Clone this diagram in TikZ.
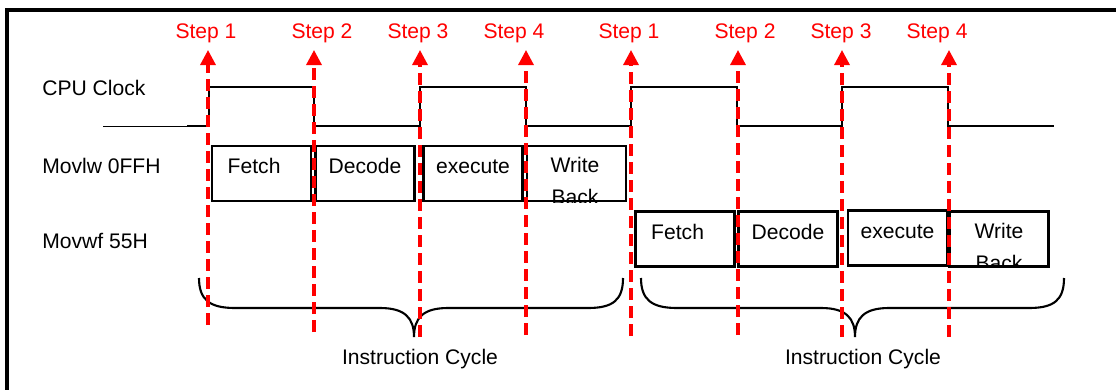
\documentclass[tikz,border=0pt]{standalone}
\usepackage{fontspec}
\setmainfont{Liberation Sans}
\usetikzlibrary{arrows.meta}

\begin{document}
\begin{tikzpicture}[x=0.025cm, y=-0.025cm,
  font=\fontsize{15}{17}\selectfont,
  steparrow/.style={draw=red, line width=2.3pt, dash pattern=on 0.3cm off 0.15cm,
    -{Triangle[width=0.38cm,length=0.38cm]}},
  steplabel/.style={text=red, anchor=base, inner sep=0pt},
  rowlabel/.style={anchor=base west, inner sep=0pt},
  stagebox/.style={draw, line width=1.5pt, minimum width=2.475cm, minimum height=1.375cm,
    inner sep=0pt, text height=10pt, text depth=10pt},
  clockline/.style={line width=1.5pt},
  bracket/.style={line width=1.5pt}]
  \clip (0,0) rectangle (1116,389);

  %% frame
  \draw[line width=2.8pt] (7,400) -- (7,10) -- (1130,10);

  %% row labels
  \node[rowlabel] (clk) at (42,95) {CPU Clock};
  \node[rowlabel] (movlw) at (42,173) {Movlw 0FFH};
  \node[rowlabel] (movwf) at (42,248) {Movwf 55H};

  %% CPU clock
  \draw[line width=0.7pt] (103,126) -- (187,126);
  \draw[clockline] (187,126) -- (209,126) -- (209,87) -- (314,87) -- (314,126)
    -- (420,126) -- (420,87) -- (526,87) -- (526,126) -- (631,126) -- (631,87)
    -- (737,87) -- (737,126) -- (842,126) -- (842,87) -- (948,87) -- (948,126)
    -- (1054,126);

  %% Movlw 0FFH
  \node[stagebox] (fetchA) at (261.5,173.5) {Fetch\kern0.37cm};
  \node[stagebox] (decodeA) at (365,173.5) {Decode};
  \node[stagebox] (execA) at (473,173.5) {execute};
  \node[stagebox] (wbA) at (576.5,173.5) {};
  \begin{scope}
    \clip (wbA.north west) rectangle (wbA.south east);
    \node[anchor=base] (writeA) at (575,172) {Write};
    \node[anchor=base] (backA) at (575,204) {Back};
  \end{scope}

  %% Movwf 55H
  \node[stagebox] (fetchB) at (685,239) {Fetch\kern0.37cm};
  \node[stagebox] (decodeB) at (788,239) {Decode};
  \node[stagebox] (execB) at (897.5,238) {execute};
  \node[stagebox] (wbB) at (999,239) {};
  \begin{scope}
    \clip (wbB.north west) rectangle (wbB.south east);
    \node[anchor=base] (writeB) at (999,238) {Write};
    \node[anchor=base] (backB) at (999,270) {Back};
  \end{scope}

  %% braces
  \draw[bracket] (199,278) .. controls (199,300) and (210,308) .. (235,308) -- (380,308)
    .. controls (405,308) and (414,318) .. (414,337)
    .. controls (414,318) and (423,308) .. (448,308) -- (588,308)
    .. controls (613,308) and (623,300) .. (623,278);
  \draw[bracket] (641,278) .. controls (641,300) and (652,308) .. (677,308) -- (821,308)
    .. controls (846,308) and (855,318) .. (855,337)
    .. controls (855,318) and (864,308) .. (889,308) -- (1029,308)
    .. controls (1054,308) and (1064,300) .. (1064,278);
  \node[anchor=base] (cycA) at (420,364) {Instruction Cycle};
  \node[anchor=base] (cycB) at (863,364) {Instruction Cycle};

  %% steps
  \node[steplabel] (s1) at (206,38) {Step 1};
  \node[steplabel] (s2) at (322,38) {Step 2};
  \node[steplabel] (s3) at (418,38) {Step 3};
  \node[steplabel] (s4) at (514,38) {Step 4};
  \node[steplabel] (s5) at (629,38) {Step 1};
  \node[steplabel] (s6) at (745,38) {Step 2};
  \node[steplabel] (s7) at (841,38) {Step 3};
  \node[steplabel] (s8) at (937,38) {Step 4};

  \coordinate (b1) at (208,325); \coordinate (t1) at (208,50);
  \coordinate (b2) at (314,332); \coordinate (t2) at (314,50);
  \coordinate (b3) at (420,337); \coordinate (t3) at (420,50);
  \coordinate (b4) at (526,335); \coordinate (t4) at (526,50);
  \coordinate (b5) at (631,336); \coordinate (t5) at (631,50);
  \coordinate (b6) at (738,335); \coordinate (t6) at (738,50);
  \coordinate (b7) at (842,337); \coordinate (t7) at (842,50);
  \coordinate (b8) at (949,337); \coordinate (t8) at (949,50);
  \draw[steparrow] (b1) -- (t1);
  \draw[steparrow] (b2) -- (t2);
  \draw[steparrow] (b3) -- (t3);
  \draw[steparrow] (b4) -- (t4);
  \draw[steparrow] (b5) -- (t5);
  \draw[steparrow] (b6) -- (t6);
  \draw[steparrow] (b7) -- (t7);
  \draw[steparrow] (b8) -- (t8);

\end{tikzpicture}
\end{document}
